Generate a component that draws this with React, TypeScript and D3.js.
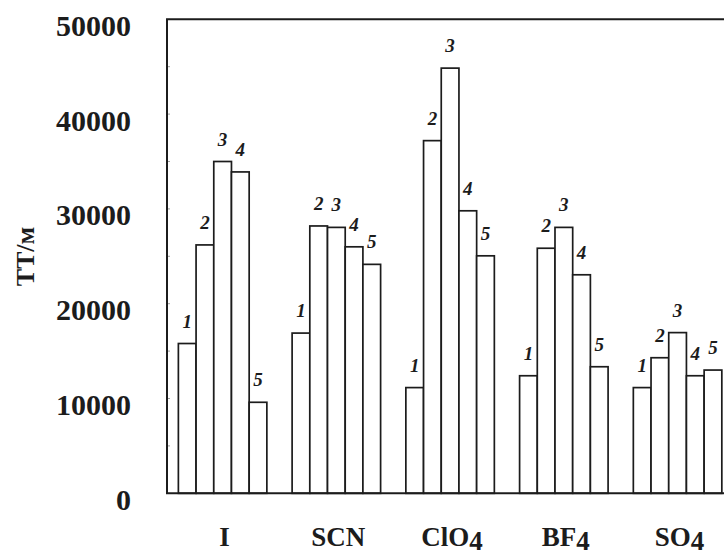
import React from "react";
import * as d3 from "d3";

const categories = ["I", "SCN", "ClO4", "BF4", "SO4"];
const series = ["1", "2", "3", "4", "5"];
const values: number[][] = [
  [15800, 26200, 35000, 33900, 9600],
  [16900, 28200, 28050, 26000, 24150],
  [11150, 37200, 44850, 29800, 25050],
  [12400, 25850, 28050, 23050, 13350],
  [11150, 14300, 16950, 12400, 13000],
];
const yTicks = [0, 10000, 20000, 30000, 40000, 50000];
const yMinorTicks = d3.range(0, 50001, 5000);
const yTitle = "TT/м";

const W = 724;
const H = 556;
const axisX = 167;
const topY = 19.3;
const baseY = 493.3;

export default function App() {
  const x = d3
    .scaleBand<string>()
    .domain(categories)
    .range([axisX, 733.2])
    .paddingInner(0.222)
    .paddingOuter(0.1);
  const xi = d3
    .scaleBand<string>()
    .domain(series)
    .range([0, x.bandwidth()])
    .padding(0);
  const y = d3.scaleLinear().domain([0, 50000]).range([baseY, topY]);

  const serif = "'Liberation Serif', 'Times New Roman', serif";
  const ink = "#1c1c1c";

  const renderCat = (c: string) => {
    const m = c.match(/^(.*?)(\d+)$/);
    if (!m) return c;
    return (
      <>
        {m[1]}
        <tspan dy={4}>{m[2]}</tspan>
      </>
    );
  };

  return (
    <svg
      width={W}
      height={H}
      style={{ position: "absolute", left: 0, top: 0, background: "#fff" }}
      fontFamily={serif}
    >
      <rect x={0} y={0} width={W} height={H} fill="#fff" />
      {yMinorTicks.map((t) => (
        <line
          key={"m" + t}
          x1={axisX}
          x2={axisX + 3}
          y1={y(t)}
          y2={y(t)}
          stroke="#888"
          strokeWidth={0.8}
        />
      ))}
      {categories.map((c, ci) => (
        <g key={c} transform={`translate(${x(c)},0)`}>
          {series.map((s, si) => {
            const v = values[ci][si];
            const bx = xi(s) as number;
            return (
              <g key={s}>
                <rect
                  x={bx}
                  y={y(v)}
                  width={xi.bandwidth()}
                  height={baseY - y(v)}
                  fill="#fff"
                  stroke={ink}
                  strokeWidth={1.7}
                />
                <text
                  x={bx + xi.bandwidth() / 2}
                  y={y(v) - 16}
                  textAnchor="middle"
                  fontSize={19}
                  fontWeight="bold"
                  fontStyle="italic"
                  fill={ink}
                >
                  {s}
                </text>
              </g>
            );
          })}
        </g>
      ))}
      <line x1={axisX} x2={axisX} y1={topY} y2={baseY} stroke={ink} strokeWidth={2} />
      <line x1={axisX - 1} x2={W} y1={topY} y2={topY} stroke={ink} strokeWidth={2} />
      <line x1={axisX - 1} x2={W} y1={baseY} y2={baseY} stroke={ink} strokeWidth={2} />
      {yTicks.map((t) => (
        <text
          key={t}
          x={131}
          y={y(t) + 6}
          textAnchor="end"
          dominantBaseline="central"
          fontSize={30}
          fontWeight="bold"
          fill={ink}
        >
          {t}
        </text>
      ))}
      {categories.map((c) => (
        <text
          key={"x" + c}
          x={(x(c) as number) + x.bandwidth() / 2 + 2}
          y={546}
          textAnchor="middle"
          fontSize={27}
          fontWeight="bold"
          fill={ink}
        >
          {renderCat(c)}
        </text>
      ))}
      <text
        transform={`translate(34,256.5) rotate(-90)`}
        textAnchor="middle"
        fontSize={26}
        fontWeight="bold"
        fill={ink}
      >
        {yTitle}
      </text>
    </svg>
  );
}
